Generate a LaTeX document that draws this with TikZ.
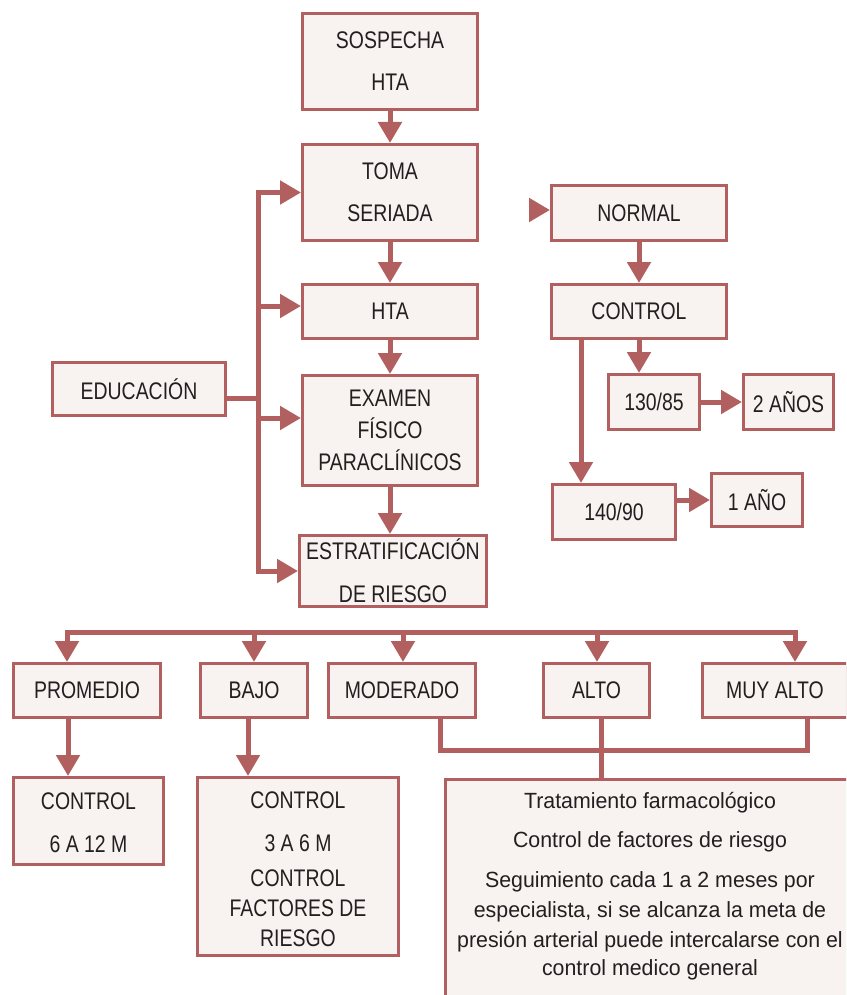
\documentclass[tikz,border=0pt]{standalone}
\usepackage{fontspec}
\setmainfont{Liberation Sans}
\newfontfamily\capsfont[FakeStretch=0.81]{Liberation Sans}
\newfontfamily\notefont[FakeStretch=0.97]{Liberation Sans}
\usetikzlibrary{arrows.meta}
\definecolor{linecol}{HTML}{B25F60}
\definecolor{boxfill}{HTML}{F8F3F1}
\definecolor{inkcol}{HTML}{231F20}

\begin{document}
\begin{tikzpicture}[x=1pt,y=-1pt,
  box/.style={draw=linecol, line width=3pt, fill=boxfill, text=inkcol,
    inner sep=0pt, align=center, font=\capsfont\fontsize{24}{30}\selectfont},
  link/.style={draw=linecol, line width=5pt},
  arr/.style={link, -{Triangle[width=23pt,length=21pt]}},
  bus/.style={link, line cap=rect, line join=miter},
]
\useasboundingbox (0,0) rectangle (846,995);
\clip (0,0) rectangle (846,995);

% main column
\node[box, minimum width=175pt, minimum height=96pt]  (sosp) at (390,61.5)  {SOSPECHA\\[12pt]HTA};
\node[box, minimum width=175pt, minimum height=96pt]  (toma) at (390,192.5) {TOMA\\[12pt]SERIADA};
\node[box, minimum width=175pt, minimum height=54pt]  (hta)  at (390,311.5) {HTA};
\node[box, minimum width=175pt, minimum height=110pt] (exam) at (390,430.5) {EXAMEN\\[2pt]FÍSICO\\[2pt]PARACLÍNICOS};
\node[box, minimum width=187pt, minimum height=71pt]  (estr) at (393,571)   {ESTRATIFICACIÓN\\[13pt]DE RIESGO};
\node[box, minimum width=173pt, minimum height=53pt]  (educ) at (139,389)   {EDUCACIÓN};

% right branch
\node[box, minimum width=175pt, minimum height=55pt] (normal)  at (639,213)   {NORMAL};
\node[box, minimum width=175pt, minimum height=54pt] (control) at (639,311.5) {CONTROL};
\node[box, minimum width=91pt,  minimum height=55pt] (c130)    at (654,402)   {130/85};
\node[box, minimum width=90pt,  minimum height=55pt] (anios2)  at (788.5,402) {2 AÑOS};
\node[box, minimum width=123pt, minimum height=55pt] (c140)    at (614,512)   {140/90};
\node[box, minimum width=91pt,  minimum height=53pt] (anio1)   at (757,500)   {1 AÑO};

% risk levels
\node[box, minimum width=147pt, minimum height=54pt] (prom) at (87,690.5)  {PROMEDIO};
\node[box, minimum width=107pt, minimum height=54pt] (bajo) at (254,690.5) {BAJO};
\node[box, minimum width=147pt, minimum height=54pt] (mod)  at (402,690.5) {MODERADO};
\node[box, minimum width=106pt, minimum height=54pt] (alto) at (596.5,690.5) {ALTO};
\node[box, minimum width=145pt, minimum height=54pt] (muy)  at (775,690.5) {MUY ALTO};

% follow-up boxes
\node[box, minimum width=150pt, minimum height=87pt]  (ctlA) at (88.5,821) {\rule{0pt}{21pt}CONTROL\\[13pt]6 A 12 M};
\node[box, minimum width=201pt, minimum height=178pt] (ctlB) at (298,866.5) {\rule{0pt}{23pt}CONTROL\\[13pt]3 A 6 M\\[5pt]CONTROL\\FACTORES DE\\RIESGO};
\node[box, anchor=north west, minimum width=413pt, minimum height=240pt] (care) at (443.5,777.5) {};
\node[anchor=north, align=center, text=inkcol, inner sep=0pt,
      font=\notefont\fontsize{22}{30}\selectfont] (caretxt) at (650,792)
  {Tratamiento farmacológico\\[9pt]
   Control de factores de riesgo\\[10pt]
   Seguimiento cada 1 a 2 meses por\\
   especialista, si se alcanza la meta de\\
   presión arterial puede intercalarse con el\\[-2pt]
   control medico general};

% main column arrows
\draw[arr] (sosp.south) -- (toma.north);
\draw[arr] (toma.south) -- (hta.north);
\draw[arr] (hta.south) -- (exam.north);
\draw[arr] (exam.south) -- (exam.south |- estr.north);

% education bus
\coordinate (busx) at (258,0);
\coordinate (htay) at (0,306);
\coordinate (examy) at (0,418);
\coordinate (educy) at (0,398);
\draw[bus] (busx |- toma.west) -- (busx |- estr.west);
\draw[link] (educy -| educ.east) -- (educy -| busx);
\draw[arr] (busx |- toma.west) -- (toma.west);
\draw[arr] (busx |- htay) -- (htay -| hta.west);
\draw[arr] (busx |- examy) -- (examy -| exam.west);
\draw[arr] (busx |- estr.west) -- (estr.west);

% right branch arrows (NORMAL has a bare arrowhead on its left)
\coordinate (nstub) at (530,210);
\coordinate (cleft) at (581,0);
\draw[arr] (nstub) -- (nstub -| normal.west);
\draw[arr] (normal.south) -- (control.north);
\draw[arr] (control.south) -- (control.south |- c130.north);
\draw[arr] (c130.east) -- (anios2.west);
\draw[arr] (cleft |- control.south) -- (cleft |- c140.north);
\draw[arr] (c140.east |- anio1.west) -- (anio1.west);

% risk level distribution
\coordinate (t1) at (67,632);
\coordinate (t2) at (254,632);
\coordinate (t3) at (403,632);
\coordinate (t4) at (597,632);
\coordinate (t5) at (795,632);
\draw[bus] (t1) -- (t5);
\draw[arr] (t1) -- (t1 |- prom.north);
\draw[arr] (t2) -- (t2 |- bajo.north);
\draw[arr] (t3) -- (t3 |- mod.north);
\draw[arr] (t4) -- (t4 |- alto.north);
\draw[arr] (t5) -- (t5 |- muy.north);

% follow-up links
\coordinate (d1) at (68,0);
\coordinate (d2) at (248,0);
\draw[arr] (d1 |- prom.south) -- (d1 |- ctlA.north);
\draw[arr] (d2 |- bajo.south) -- (d2 |- ctlB.north);
\coordinate (m1) at (440,750);
\coordinate (m2) at (807,750);
\coordinate (ad) at (601,0);
\draw[link, line join=miter] (m1 |- mod.south) -- (m1) -- (m2) -- (m2 |- muy.south);
\draw[link] (ad |- alto.south) -- (ad |- care.north);
\end{tikzpicture}
\end{document}
